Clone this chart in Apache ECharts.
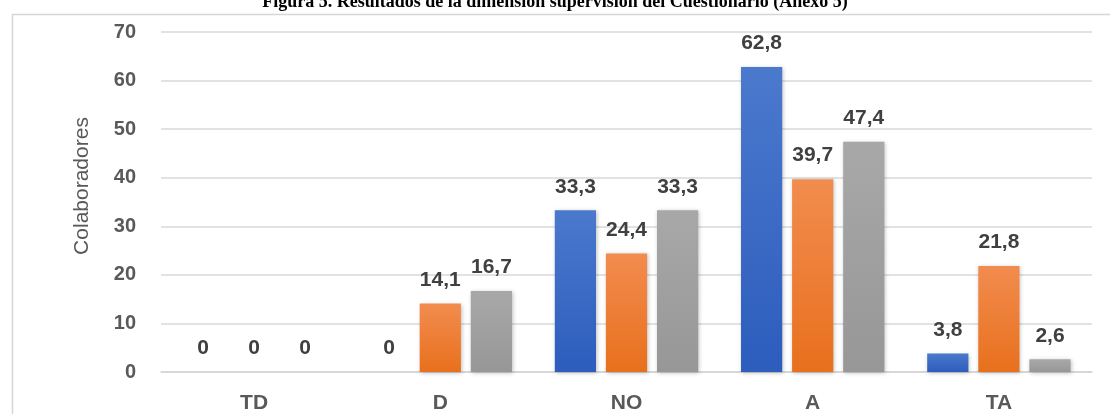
<!DOCTYPE html>
<html>
<head>
<meta charset="utf-8">
<script src="https://cdn.jsdelivr.net/npm/echarts@6/dist/echarts.min.js"></script>
<style>
  html, body { margin: 0; padding: 0; background: #ffffff; }
  #chart { width: 1110px; height: 414px; }
</style>
</head>
<body>
<div id="chart"></div>
<script>
// Categorías de respuesta (escala de Likert)
const categorias = ['TD', 'D', 'NO', 'A', 'TA'];

// Porcentajes por grupo
const grupo1 = [0, 0, 33.3, 62.8, 3.8];
const grupo2 = [0, 14.1, 24.4, 39.7, 21.8];
const grupo3 = [0, 16.7, 33.3, 47.4, 2.6];

const nombresGrupos = ['Grupo 1', 'Grupo 2', 'Grupo 3'];

// Eje vertical
const ejeMin = 0;
const ejeMax = 70;
const ejeIntervalo = 10;

const chart = echarts.init(document.getElementById('chart'), null, { renderer: 'canvas' });

function gradiente(top, bottom) {
  return new echarts.graphic.LinearGradient(0, 0, 0, 1, [
    { offset: 0, color: top },
    { offset: 1, color: bottom }
  ]);
}

const estilosBarra = [
  gradiente('#4a79cd', '#2d5dbd'),
  gradiente('#f28c4f', '#e8701d'),
  gradiente('#a8a8a8', '#979797')
];

const etiqueta = {
  show: true,
  position: 'top',
  distance: 13,
  color: '#404040',
  fontFamily: 'Liberation Sans, Arial, sans-serif',
  fontWeight: 'bold',
  fontSize: 21,
  formatter: p => String(p.value).replace('.', ',')
};

const datos = [grupo1, grupo2, grupo3];

const option = {
  backgroundColor: '#ffffff',
  animation: false,
  title: {
    text: 'Figura 5. Resultados de la dimensión supervisión del Cuestionario (Anexo 5)',
    left: 'center',
    top: -7,
    padding: 0,
    textStyle: {
      fontFamily: 'Liberation Serif, Times New Roman, serif',
      fontWeight: 'bold',
      fontSize: 18,
      color: '#000000'
    }
  },
  graphic: [{
    type: 'rect',
    left: 10,
    top: 12,
    shape: { width: 1115, height: 420 },
    style: { fill: 'none', stroke: '#d6d6d6', lineWidth: 1.5 },
    z: -1
  }],
  grid: { left: 161, right: 18, top: 32, bottom: 42 },
  xAxis: {
    type: 'category',
    data: categorias,
    axisTick: { show: false },
    axisLine: { lineStyle: { color: '#d4d4d4', width: 1.5 } },
    axisLabel: {
      margin: 21,
      color: '#595959',
      fontFamily: 'Liberation Sans, Arial, sans-serif',
      fontWeight: 'bold',
      fontSize: 21
    }
  },
  yAxis: {
    type: 'value',
    min: ejeMin,
    max: ejeMax,
    interval: ejeIntervalo,
    name: 'Colaboradores',
    nameLocation: 'middle',
    nameGap: 68,
    nameTextStyle: {
      color: '#595959',
      fontFamily: 'Liberation Sans, Arial, sans-serif',
      fontSize: 21,
      padding: [0, 0, 0, 32]
    },
    axisLine: { show: false },
    axisTick: { show: false },
    splitLine: { lineStyle: { color: '#d9d9d9', width: 1.5 } },
    axisLabel: {
      margin: 25,
      color: '#595959',
      fontFamily: 'Liberation Sans, Arial, sans-serif',
      fontWeight: 'bold',
      fontSize: 20
    }
  },
  series: datos.map((valores, i) => ({
    name: nombresGrupos[i],
    type: 'bar',
    data: valores,
    barGap: '24%',
    barCategoryGap: '23%',
    itemStyle: {
      color: estilosBarra[i],
      shadowBlur: 4,
      shadowColor: 'rgba(0,0,0,0.25)',
      shadowOffsetX: 1,
      shadowOffsetY: 1
    },
    label: etiqueta
  }))
};

chart.setOption(option);
</script>
</body>
</html>
